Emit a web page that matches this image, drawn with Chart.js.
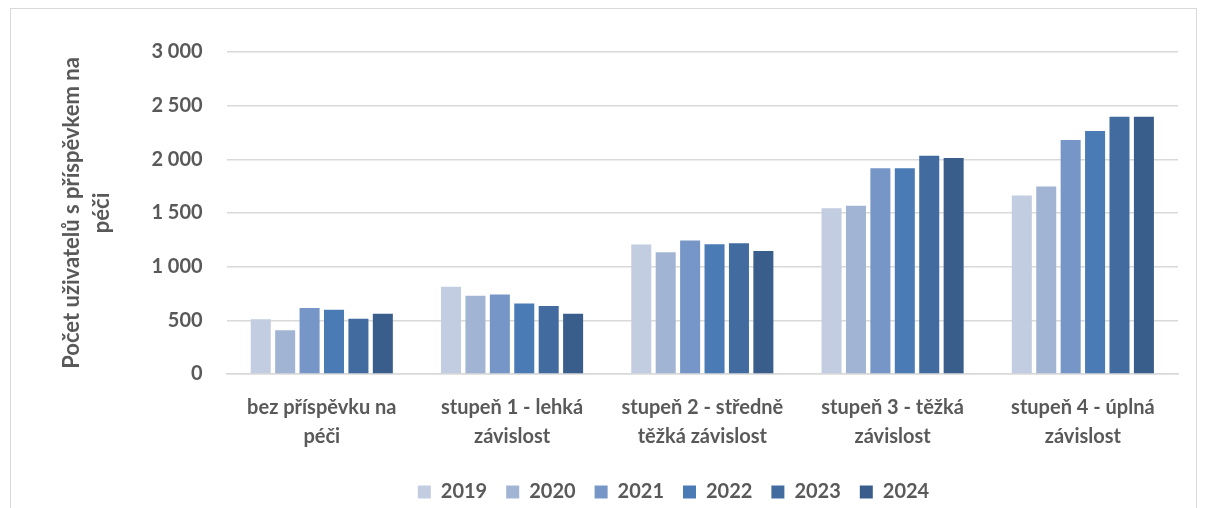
<!DOCTYPE html>
<html>
<head>
<meta charset="utf-8">
<script src="https://cdn.jsdelivr.net/npm/chart.js@4"></script>
<style>
  body { margin: 0; background: #fff; }
  #wrap { position: absolute; left: 10px; top: 8px; width: 1187px; height: 505px; border: 1px solid #d9d9d9; box-sizing: border-box; }
</style>
</head>
<body>
<div id="wrap"><canvas id="myChart"></canvas></div>
<script>
const categories = [
  ['bez příspěvku na', 'péči'],
  ['stupeň 1 - lehká', 'závislost'],
  ['stupeň 2 - středně', 'těžká závislost'],
  ['stupeň 3 - těžká', 'závislost'],
  ['stupeň 4 - úplná', 'závislost']
];
const years = ['2019', '2020', '2021', '2022', '2023', '2024'];
const colors = ['#c2cde1', '#a2b4d4', '#7596c6', '#4a7bb5', '#426c9f', '#3a5e8b'];

const v2019 = [511, 813, 1206, 1545, 1663];
const v2020 = [408, 729, 1134, 1567, 1748];
const v2021 = [614, 741, 1243, 1916, 2181];
const v2022 = [598, 657, 1209, 1916, 2265];
const v2023 = [514, 633, 1218, 2034, 2396];
const v2024 = [561, 561, 1147, 2012, 2396];
const series = [v2019, v2020, v2021, v2022, v2023, v2024];

const textColor = '#595959';
const family = 'Lato, "Open Sans", sans-serif';
const font = { family: family, weight: 'bold', size: 20, lineHeight: 1.45 };

// posune legendu doprava, jako v originale
const legendShift = {
  id: 'legendShift',
  afterUpdate(chart) {
    const lg = chart.legend;
    if (!lg) return;
    lg.left += 56;
    lg.right += 56;
    lg.adjustHitBoxes();
  }
};

const ctx = document.getElementById('myChart').getContext('2d');

const chart = new Chart(ctx, {
  type: 'bar',
  data: {
    labels: categories,
    datasets: years.map((y, i) => ({
      label: y,
      data: series[i],
      backgroundColor: colors[i],
      categoryPercentage: 0.77,
      barPercentage: 0.82
    }))
  },
  options: {
    responsive: true,
    maintainAspectRatio: false,
    animation: false,
    layout: { padding: { left: 46, right: 18, top: 43, bottom: 0 } },
    plugins: {
      legend: {
        position: 'bottom',
        labels: {
          color: textColor,
          font: { family: family, weight: 'bold', size: 20 },
          boxWidth: 13,
          boxHeight: 13,
          padding: 19
        }
      },
      tooltip: { enabled: false }
    },
    scales: {
      x: {
        grid: { display: false },
        border: { color: '#d9d9d9', width: 1.5 },
        ticks: { color: textColor, font: font, maxRotation: 0, padding: 11 },
        afterFit: (scale) => { scale.height += 1; }
      },
      y: {
        min: 0,
        max: 3000,
        grid: { color: '#d9d9d9', lineWidth: 1.5, drawTicks: false },
        border: { display: false },
        ticks: {
          stepSize: 500,
          color: textColor,
          font: { family: family, weight: 'bold', size: 20 },
          padding: 24,
          callback: v => String(v).replace(/\B(?=(\d{3})+(?!\d))/g, ' ')
        },
        title: {
          display: true,
          text: ['Počet uživatelů s příspěvkem na', 'péči'],
          color: textColor,
          font: { family: family, weight: 'bold', size: 22, lineHeight: 1.35 },
          padding: { top: 0, bottom: 11 }
        }
      }
    }
  },
  plugins: [legendShift]
});
</script>
</body>
</html>
